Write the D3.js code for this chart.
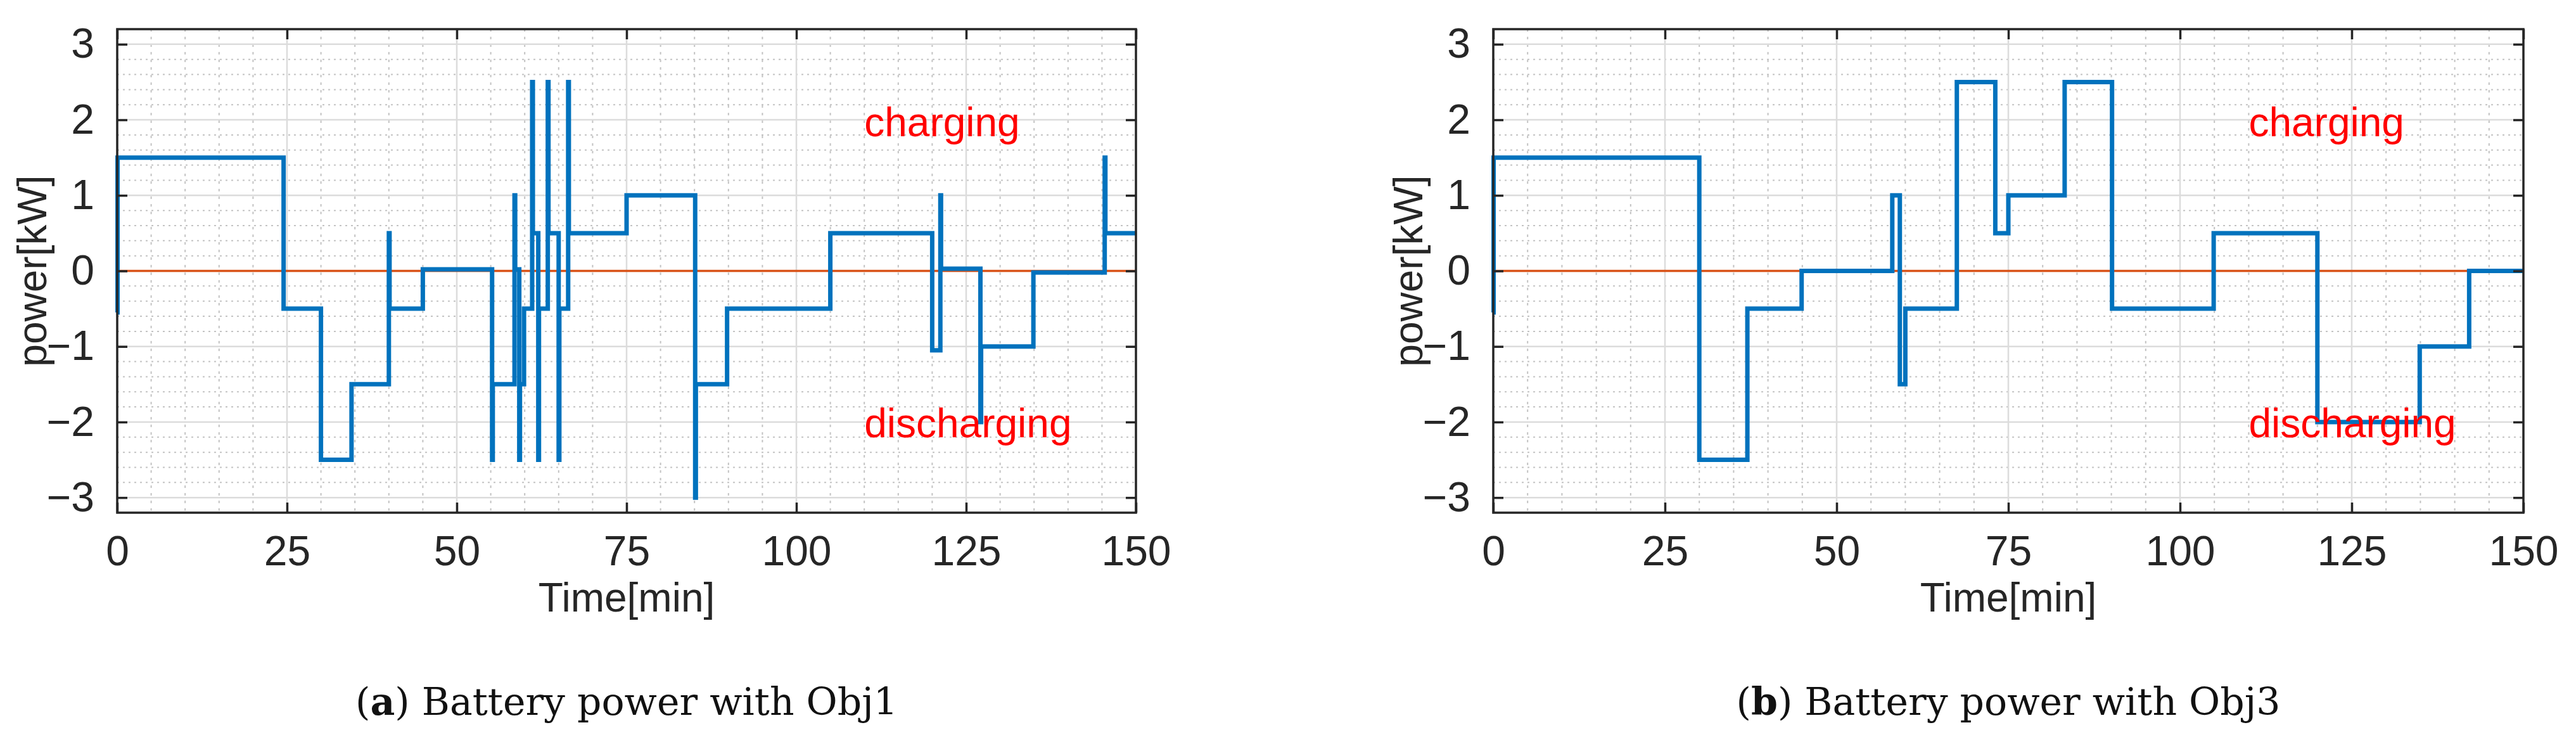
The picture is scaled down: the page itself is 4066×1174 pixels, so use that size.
<!DOCTYPE html>
<html><head><meta charset="utf-8">
<script src="https://cdn.jsdelivr.net/npm/d3@7"></script>
<style>body{margin:0;background:#fff}</style></head>
<body><svg id="c" width="4066" height="1174"></svg>
<script>
// Obj1 battery power: [time(min), power(kW)] step vertices
const obj1 = [[0,-0.55],[0.05,1.5],[24.5,-0.5],[30,-2.5],[34.5,-1.5],[40,0.5],[40.1,-0.5],[45,0.02],[55.2,-2.5],[55.3,-1.5],
 [58.5,1.0],[58.6,0.02],[59.2,-2.5],[59.3,-1.5],[59.9,-0.5],[61.1,2.5],[61.2,0.5],[62.0,-2.5],[62.1,-0.5],[63.4,2.5],[63.5,0.5],
 [65.0,-2.5],[65.1,-0.5],[66.4,2.5],[66.5,0.5],[75,1.0],[85.1,-3.0],[85.2,-1.5],[89.8,-0.5],[105,0.5],[120,-1.05],[121.2,1.0],
 [121.3,0.03],[127.1,-2.0],[127.2,-1.0],[134.9,-0.02],[145.4,1.5],[145.5,0.5],[150,0.5]];
// Obj3 battery power
const obj3 = [[0,-0.55],[0.05,1.5],[30,-2.5],[37,-0.5],[44.9,0.0],[58.1,1.0],[59.2,-1.5],[60,-0.5],[67.5,2.5],[73.1,0.5],
 [75,1.0],[83.2,2.5],[90.1,-0.5],[104.9,0.5],[120,-2.0],[134.9,-1.0],[142.1,0.0],[150,0.0]];
const xTicks = [0,25,50,75,100,125,150];
const yTicks = [-3,-2,-1,0,1,2,3];
const captions = [["a"," Battery power with Obj1"],["b"," Battery power with Obj3"]];
const annots = ["charging","discharging"];

const svg = d3.select("#c");
const F = "'Liberation Sans', Arial, sans-serif";
function panel(x0, x1, data, cap){
  const top=46, bot=809;
  const x = d3.scaleLinear().domain([0,150]).range([x0,x1]);
  const y = d3.scaleLinear().domain([-3.2,3.2]).range([bot,top]);
  const g = svg.append("g");
  const minX = d3.range(0,151,5).filter(v=>v%25);
  const minY = d3.range(-32,33,2).map(v=>v/10).filter(v=>Math.abs(v-Math.round(v))>1e-6);
  g.selectAll(".mx").data(minX).join("line").attr("x1",x).attr("x2",x).attr("y1",top).attr("y2",bot)
    .attr("stroke","#c4c4c4").attr("stroke-width",2).attr("stroke-dasharray","4,8");
  g.selectAll(".my").data(minY).join("line").attr("y1",y).attr("y2",y).attr("x1",x0).attr("x2",x1)
    .attr("stroke","#c4c4c4").attr("stroke-width",2).attr("stroke-dasharray","3,6");
  g.selectAll(".Mx").data(xTicks).join("line").attr("x1",x).attr("x2",x).attr("y1",top).attr("y2",bot)
    .attr("stroke","#dcdcdc").attr("stroke-width",2.5);
  g.selectAll(".My").data(yTicks).join("line").attr("y1",y).attr("y2",y).attr("x1",x0).attr("x2",x1)
    .attr("stroke","#dcdcdc").attr("stroke-width",2.5);
  g.append("line").attr("x1",x(0)).attr("x2",x(150)).attr("y1",y(0)).attr("y2",y(0))
    .attr("stroke","#D95319").attr("stroke-width",3.5);
  g.append("path").datum(data).attr("fill","none").attr("stroke","#0072BD").attr("stroke-width",7)
    .attr("d",d3.line().x(d=>x(d[0])).y(d=>y(d[1])).curve(d3.curveStepAfter));
  g.append("rect").attr("x",x0).attr("y",top).attr("width",x1-x0).attr("height",bot-top)
    .attr("fill","none").attr("stroke","#262626").attr("stroke-width",3.5);
  const fmt = d3.format("d");
  const axB = d3.axisBottom(x).tickValues(xTicks).tickSizeInner(-16).tickSizeOuter(0).tickPadding(36).tickFormat(fmt);
  const axT = d3.axisTop(x).tickValues(xTicks).tickSizeInner(-16).tickSizeOuter(0).tickFormat("");
  const axL = d3.axisLeft(y).tickValues(yTicks).tickSizeInner(-16).tickSizeOuter(0).tickPadding(36).tickFormat(fmt);
  const axR = d3.axisRight(y).tickValues(yTicks).tickSizeInner(-16).tickSizeOuter(0).tickFormat("");
  [[axB,`translate(0,${bot})`],[axT,`translate(0,${top})`],[axL,`translate(${x0},0)`],[axR,`translate(${x1},0)`]].forEach(([a,t])=>{
    const s=g.append("g").attr("transform",t).call(a);
    s.select(".domain").remove();
    s.selectAll("line").attr("stroke","#262626").attr("stroke-width",3.5);
    s.selectAll("text").attr("font-family",F).attr("font-size",66).attr("fill","#262626");
  });
  g.append("text").attr("x",(x0+x1)/2).attr("y",965).attr("text-anchor","middle")
    .attr("font-family",F).attr("font-size",64).attr("fill","#262626").text("Time[min]");
  g.append("text").attr("transform",`translate(${x0-112},${(top+bot)/2}) rotate(-90)`).attr("text-anchor","middle")
    .attr("font-family",F).attr("font-size",64).attr("fill","#262626").text("power[kW]");
  g.append("text").attr("x",x(110)).attr("y",y(1.78)).attr("font-family",F).attr("font-size",64).attr("fill","#ff0000").text(annots[0]);
  g.append("text").attr("x",x(110)).attr("y",y(-2.2)).attr("font-family",F).attr("font-size",64).attr("fill","#ff0000").text(annots[1]);
  const c = g.append("text").attr("x",(x0+x1)/2).attr("y",1128).attr("text-anchor","middle")
    .attr("font-family","'DejaVu Serif','Liberation Serif',serif").attr("font-size",60).attr("fill","#111");
  c.append("tspan").text("(");
  c.append("tspan").attr("font-weight","bold").text(cap[0]);
  c.append("tspan").text(")"+cap[1]);
}
panel(185,1793,obj1,captions[0]);
panel(2357,3983,obj3,captions[1]);
</script></body></html>
